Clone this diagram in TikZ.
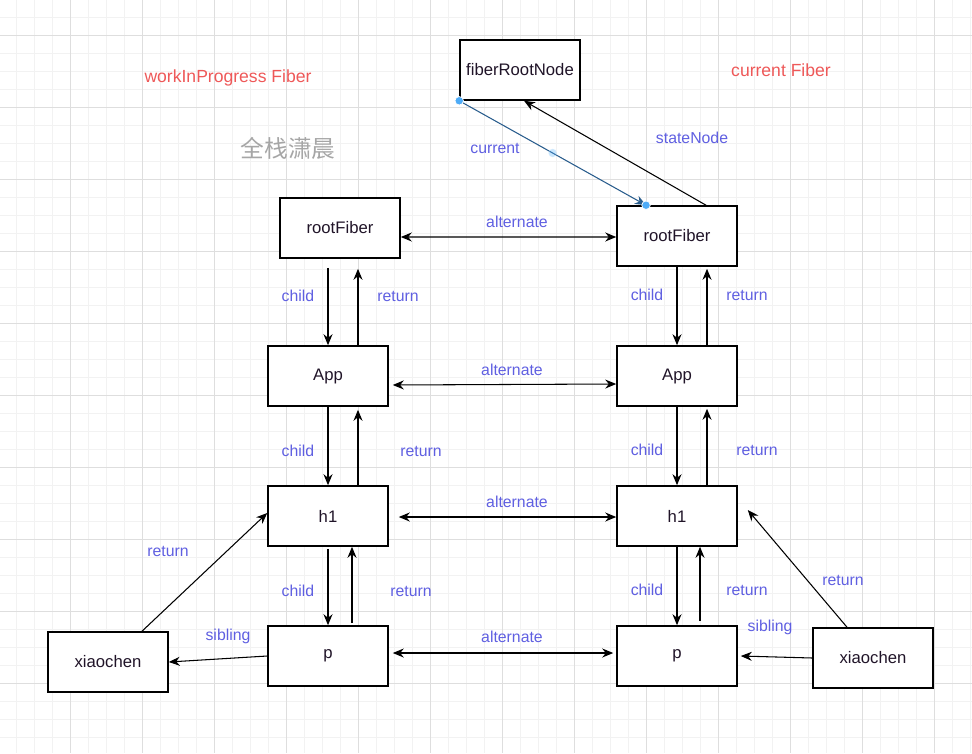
\documentclass[tikz,border=0pt]{standalone}
\usepackage{fontspec}
\setmainfont{Liberation Sans}
\newfontfamily\cjk{Noto Sans CJK SC}
\usetikzlibrary{arrows.meta, calc}
\definecolor{linkblue}{RGB}{95,95,225}
\definecolor{fibred}{RGB}{238,88,88}
\definecolor{boxtext}{RGB}{32,20,40}
\definecolor{curline}{RGB}{40,92,140}
\definecolor{handle}{RGB}{77,171,247}
\tikzset{fiber/.style={draw=black, fill=white, line width=0.9pt, minimum width=2.4cm, minimum height=1.2cm, text=boxtext, font=\fontsize{9.5}{11}\selectfont},
  lbl/.style={text=linkblue, font=\fontsize{9}{10}\selectfont},
  treelbl/.style={text=fibred, font=\fontsize{10}{12}\selectfont},
  link/.style={->, line width=0.6pt},
  twoway/.style={<->, line width=0.6pt},
  hdl/.style={circle, fill=handle, draw=white, line width=0.4pt, inner sep=0pt, minimum size=0.17cm},
  minorgrid/.style={black!5, line width=0.4pt},
  majorgrid/.style={black!13, line width=0.5pt}}

\begin{document}
\begin{tikzpicture}[x=0.02cm, y=-0.02cm, >={Stealth[length=2.2mm,width=1.8mm]}]
    \useasboundingbox (0,0) rectangle (972,753);
    % grid paper
    \foreach \gx in {16,34,...,970} \draw[minorgrid] (\gx,0) -- (\gx,753);
    \foreach \gy in {17,35,...,753} \draw[minorgrid] (0,\gy) -- (972,\gy);
    \foreach \gx in {70,142,...,934} \draw[majorgrid] (\gx,0) -- (\gx,753);
    \foreach \gy in {35,107,...,683} \draw[majorgrid] (0,\gy) -- (972,\gy);

    % fibers
    \node[fiber] (root) at (520,70) {fiberRootNode};
    \node[fiber] (wipRoot) at (340,228) {rootFiber};
    \node[fiber] (curRoot) at (677,236) {rootFiber};
    \node[fiber] (wipApp) at (328,376) {App};
    \node[fiber] (curApp) at (677,376) {App};
    \node[fiber] (wipH) at (328,516) {h1};
    \node[fiber] (curH) at (677,516) {h1};
    \node[fiber] (wipP) at (328,656) {p};
    \node[fiber] (curP) at (677,656) {p};
    \node[fiber] (wipSib) at (108,662) {xiaochen};
    \node[fiber] (curSib) at (873,658) {xiaochen};

    \node[treelbl] (wipTitle) at (228,78) {workInProgress Fiber};
    \node[treelbl] (curTitle) at (781,70) {current Fiber};
    \node[text=black!35, font=\cjk\fontsize{13.5}{15}\selectfont] (mark) at (288,148) {全栈潇晨};

    % root pointers
    \draw[link, curline] (root.south west) -- ([xshift=-0.62cm]curRoot.north);
    \draw[link] ([xshift=0.58cm]curRoot.north) -- ([xshift=0.08cm]root.south);
    \node[hdl] (hdA) at (root.south west) {};
    \node[hdl] (hdB) at ([xshift=-0.62cm]curRoot.north) {};
    \node[hdl, opacity=0.3] (hdM) at ($(hdA)!0.5!(hdB)$) {};
    \node[lbl] (lCur) at (495,148) {current};
    \node[lbl] (lState) at (692,138) {stateNode};

    % alternate
    \draw[twoway] ([yshift=-0.18cm]wipRoot.east) -- ([yshift=-0.02cm]curRoot.west);
    \draw[twoway] ([xshift=0.08cm,yshift=-0.18cm]wipApp.east) -- ([yshift=-0.16cm]curApp.west);
    \draw[twoway] ([xshift=0.2cm,yshift=-0.02cm]wipH.east) -- ([yshift=-0.02cm]curH.west);
    \draw[twoway] ([xshift=0.08cm,yshift=0.06cm]wipP.east) -- ([xshift=-0.06cm,yshift=0.06cm]curP.west);
    \node[lbl] (lAlt1) at (517,222) {alternate};
    \node[lbl] (lAlt2) at (512,370) {alternate};
    \node[lbl] (lAlt3) at (517,502) {alternate};
    \node[lbl] (lAlt4) at (512,637) {alternate};

    % workInProgress tree
    \draw[link] ([yshift=-0.18cm]wipRoot.south -| wipApp.north) -- (wipApp.north);
    \draw[link] ([xshift=0.6cm]wipApp.north) -- ([xshift=0.6cm,yshift=-0.2cm]wipApp.north |- wipRoot.south);
    \draw[link] (wipApp.south) -- (wipH.north);
    \draw[link] ([xshift=0.6cm]wipH.north) -- ([xshift=0.6cm,yshift=-0.06cm]wipApp.south);
    \draw[link] ([yshift=-0.04cm]wipH.south) -- (wipP.north);
    \draw[link] ([xshift=0.48cm,yshift=0.04cm]wipP.north) -- ([xshift=0.48cm]wipH.south);
    \draw[link] (wipP.west) -- (wipSib.east);
    \draw[link] ([xshift=0.68cm]wipSib.north) -- ([yshift=0.06cm]wipH.west);
    \node[lbl] (lC1) at (298,296) {child};
    \node[lbl] (lR1) at (398,296) {return};
    \node[lbl] (lC2) at (298,451) {child};
    \node[lbl] (lR2) at (421,451) {return};
    \node[lbl] (lC3) at (298,591) {child};
    \node[lbl] (lR3) at (411,591) {return};
    \node[lbl] (lR4) at (168,551) {return};
    \node[lbl] (lS1) at (228,636) {sibling};

    % current tree
    \draw[link] (curRoot.south) -- (curApp.north);
    \draw[link] ([xshift=0.6cm]curApp.north) -- ([xshift=0.6cm,yshift=-0.04cm]curRoot.south);
    \draw[link] (curApp.south) -- (curH.north);
    \draw[link] ([xshift=0.6cm]curH.north) -- ([xshift=0.6cm,yshift=-0.04cm]curApp.south);
    \draw[link] (curH.south) -- (curP.north);
    \draw[link] ([xshift=0.46cm,yshift=0.08cm]curP.north) -- ([xshift=0.46cm]curH.south);
    \draw[link] (curSib.west) -- ([xshift=0.06cm]curP.east);
    \draw[link] ([xshift=-0.52cm]curSib.north) -- ([xshift=0.2cm,yshift=0.12cm]curH.east);
    \node[lbl] (lC5) at (647,295) {child};
    \node[lbl] (lR5) at (747,295) {return};
    \node[lbl] (lC6) at (647,450) {child};
    \node[lbl] (lR6) at (757,450) {return};
    \node[lbl] (lC7) at (647,590) {child};
    \node[lbl] (lR7) at (747,590) {return};
    \node[lbl] (lR8) at (843,580) {return};
    \node[lbl] (lS2) at (770,627) {sibling};
\end{tikzpicture}
\end{document}
